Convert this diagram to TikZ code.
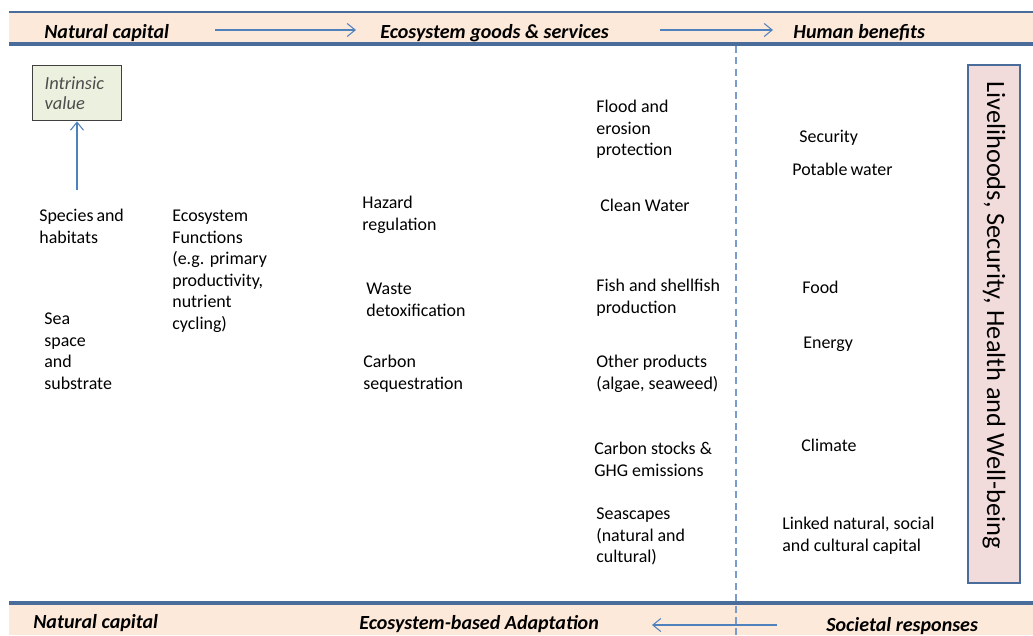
\documentclass[tikz,border=0pt]{standalone}
\usepackage{fontspec}
\setmainfont{Carlito}
\usepackage{xcolor}
\usetikzlibrary{arrows.meta}

\definecolor{bandfill}{HTML}{FDE9D9}
\definecolor{bandline}{HTML}{4A6C9B}
\definecolor{arrowblue}{HTML}{4F81BD}
\definecolor{dashblue}{HTML}{7A9CCB}
\definecolor{valuefill}{HTML}{EBF1DE}
\definecolor{wellfill}{HTML}{F2DCDB}

\begin{document}
\begin{tikzpicture}[x=0.02cm,y=-0.02cm,
    head/.style={font=\fontsize{11.4}{12}\selectfont\bfseries\itshape, anchor=base west, inner sep=0},
    item/.style={font=\fontsize{10.2}{12.2}\selectfont, align=left, anchor=north west, inner sep=0},
    word/.style={font=\fontsize{10.2}{12.2}\selectfont, anchor=base west, inner sep=0},
    arr/.style={draw=arrowblue, line width=0.6pt, -{Straight Barb[length=1.6mm,width=2.6mm]}}]
    \useasboundingbox (0,0) rectangle (1033,635);

    % bands
    \fill[bandfill] (9,12) rectangle (1033,44);
    \draw[bandline, line width=1.2pt] (9,12) -- (1033,12);
    \draw[bandline, line width=2pt] (9,44) -- (1033,44);
    \fill[bandfill] (9,603) rectangle (1033,635);
    \draw[bandline, line width=2pt] (9,603) -- (1033,603);
    \draw[dashblue, line width=0.8pt, dash pattern=on 4pt off 2.5pt] (736,46) -- (736,635);

    % headers
    \node[head] (nc top) at (44,39) {Natural capital};
    \node[head] (egs) at (380,39) {Ecosystem goods \& services};
    \node[head] (hb) at (793,39) {Human benefits};
    \node[head] (nc bot) at (33,628) {Natural capital};
    \node[head] (eba) at (359,629) {Ecosystem-based Adaptation};
    \node[head] (sr) at (826,631) {Societal responses};
    \coordinate (a1s) at (215,30);
    \coordinate (a1e) at (356,30);
    \coordinate (a2s) at (660,30);
    \coordinate (a2e) at (773,30);
    \coordinate (a3s) at (777,625);
    \coordinate (a3e) at (652,625);
    \draw[arr] (a1s) -- (a1e);
    \draw[arr] (a2s) -- (a2e);
    \draw[arr] (a3s) -- (a3e);

    % natural capital
    \node[draw=black!75, fill=valuefill, line width=0.8pt, anchor=north west,
          minimum width=1.78cm, minimum height=1.1cm, inner xsep=0.22cm,
          text width=1.3cm, align=left,
          font=\fontsize{10.5}{11.4}\selectfont\itshape, text=black!70] (intr) at (32,65) {Intrinsic\\value};
    \node[item] (species) at (39,209) {Species\,and\\habitats};
    \node[item] (sea) at (44,313) {Sea\\space\\and\\substrate};
    \node[item] (ecofun) at (172,210) {Ecosystem\\Functions\\(e.g. primary\\productivity,\\nutrient\\cycling)};
    \coordinate (sp top) at (77,190);
    \draw[arr] (sp top) -- (intr.south -| sp top);

    % regulating services
    \node[item] (hazard) at (362,196) {Hazard\\regulation};
    \node[item] (waste) at (366,283) {Waste\\detoxification};
    \node[item] (carbseq) at (363,355) {Carbon\\sequestration};

    % goods and services
    \node[item] (flood) at (596,100) {Flood and\\erosion\\protection};
    \node[word] (water) at (600,211) {Clean Water};
    \node[item] (fish) at (596,279) {Fish and shellfish\\production};
    \node[item] (other) at (596,355) {Other products\\(algae, seaweed)};
    \node[item] (cstocks) at (594,442) {Carbon stocks \&\\GHG emissions};
    \node[item] (seascape) at (596,508) {Seascapes\\(natural and\\cultural)};

    % human benefits
    \node[word] (security) at (799,142) {Security};
    \node[word] (potable) at (792,175) {Potable\,water};
    \node[word] (food) at (802,293) {Food};
    \node[word] (energy) at (803,348) {Energy};
    \node[word] (climate) at (801,451) {Climate};
    \node[item] (linked) at (782,517) {Linked natural, social\\and cultural capital};

    \node[draw=bandline, fill=wellfill, line width=1.5pt, rotate=-90,
          minimum width=10.36cm, minimum height=1.04cm,
          font=\fontsize{15}{16}\selectfont] (wellbeing) at (994,324) {Livelihoods, Security, Health and Well-being\hspace*{0.36cm}};
\end{tikzpicture}
\end{document}
